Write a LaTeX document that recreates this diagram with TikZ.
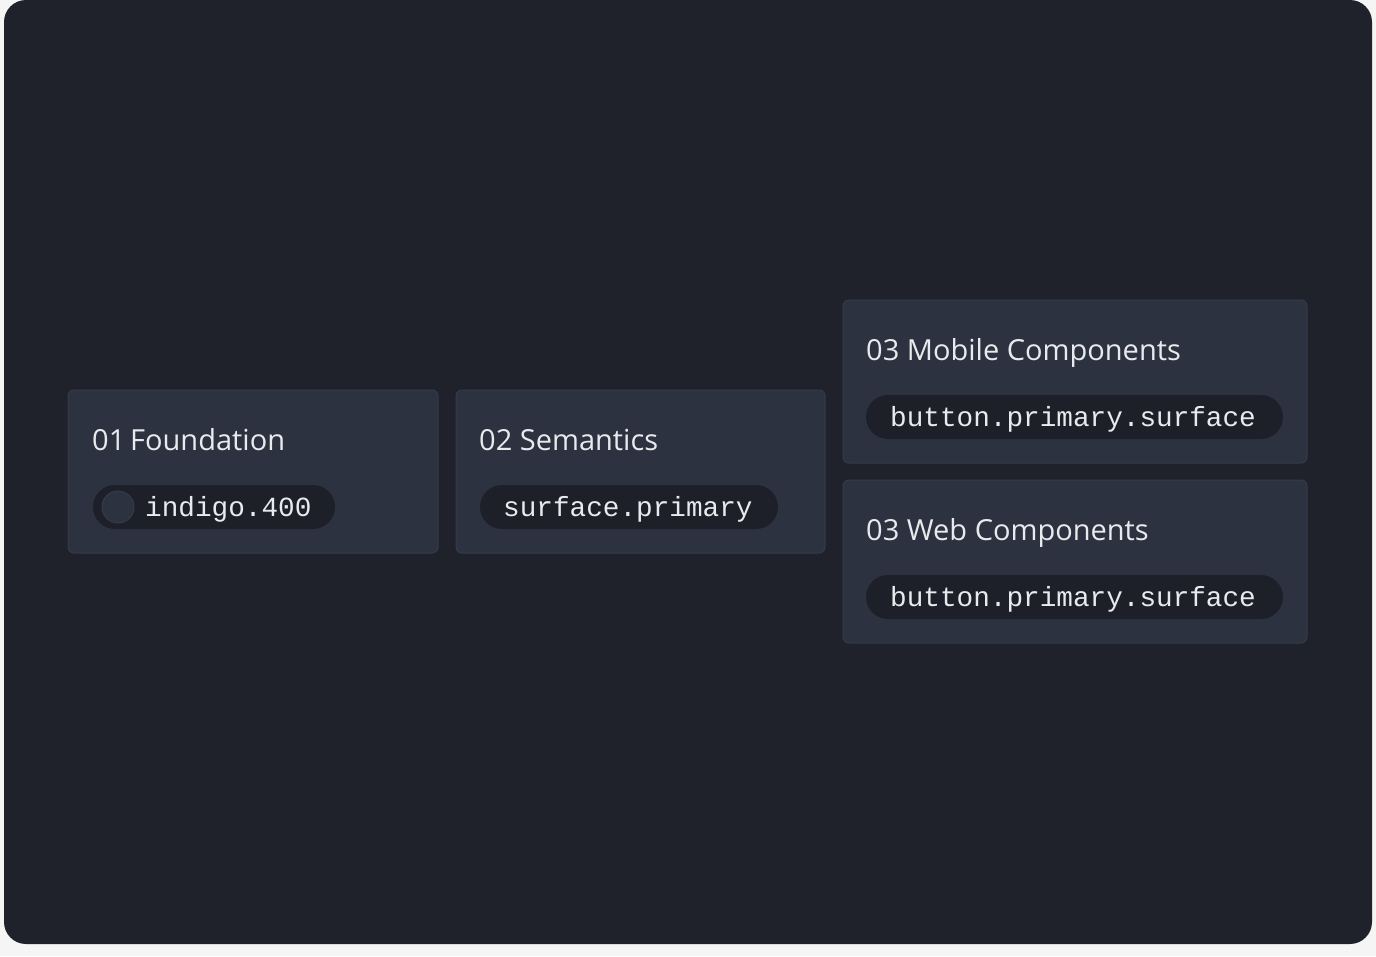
\documentclass[tikz,border=0pt]{standalone}
\usepackage{fontspec}
\setmainfont{Open Sans}
\setmonofont{Liberation Mono}
\definecolor{page}{HTML}{F5F5F6}
\definecolor{canvas}{HTML}{1F222B}
\definecolor{card}{HTML}{2D3240}
\definecolor{cardline}{HTML}{363B49}
\definecolor{pill}{HTML}{1D2029}
\definecolor{ink}{HTML}{E9EAEE}
\tikzset{
  card/.style={draw=cardline,fill=card,rounded corners=6pt,line width=1pt},
  title/.style={anchor=base west,inner sep=0pt,text=ink,font=\fontsize{29}{32}\selectfont},
  token/.style={anchor=base west,inner sep=0pt,text=ink,font=\ttfamily\fontsize{27.7}{30}\selectfont},
  pill/.style={fill=pill,rounded corners=22pt},
}
\begin{document}
\begin{tikzpicture}[x=1pt,y=-1pt]
  \useasboundingbox[fill=page] (0,0) rectangle (1376,956);
  \fill[canvas,rounded corners=22pt] (4,0) rectangle (1372,944);
  % cards
  \draw[card] (68,390) rectangle (438,553);
  \draw[card] (456,390) rectangle (825,553);
  \draw[card] (843,300) rectangle (1307,463);
  \draw[card] (843,480) rectangle (1307,643);
  % pills
  \fill[pill] (93,485) rectangle (335,529);
  \fill[card] (118,507) circle (16);
  \fill[pill] (480,485) rectangle (778,529);
  \fill[pill] (866,395) rectangle (1283,439);
  \fill[pill] (866,575) rectangle (1283,619);
  % texts
  \node[title] (found) at (92,450) {01\,Foundation};
  \node[token] (foundtok) at (145,516) {indigo.400};
  \node[title] (sem) at (479,450) {02 Semantics};
  \node[token] (semtok) at (503,516) {surface.primary};
  \node[title] (mob) at (866,360) {03 Mobile Components};
  \node[token] (mobtok) at (890,426) {button.primary.surface};
  \node[title] (web) at (866,540) {03 Web Components};
  \node[token] (webtok) at (890,606) {button.primary.surface};
\end{tikzpicture}
\end{document}
